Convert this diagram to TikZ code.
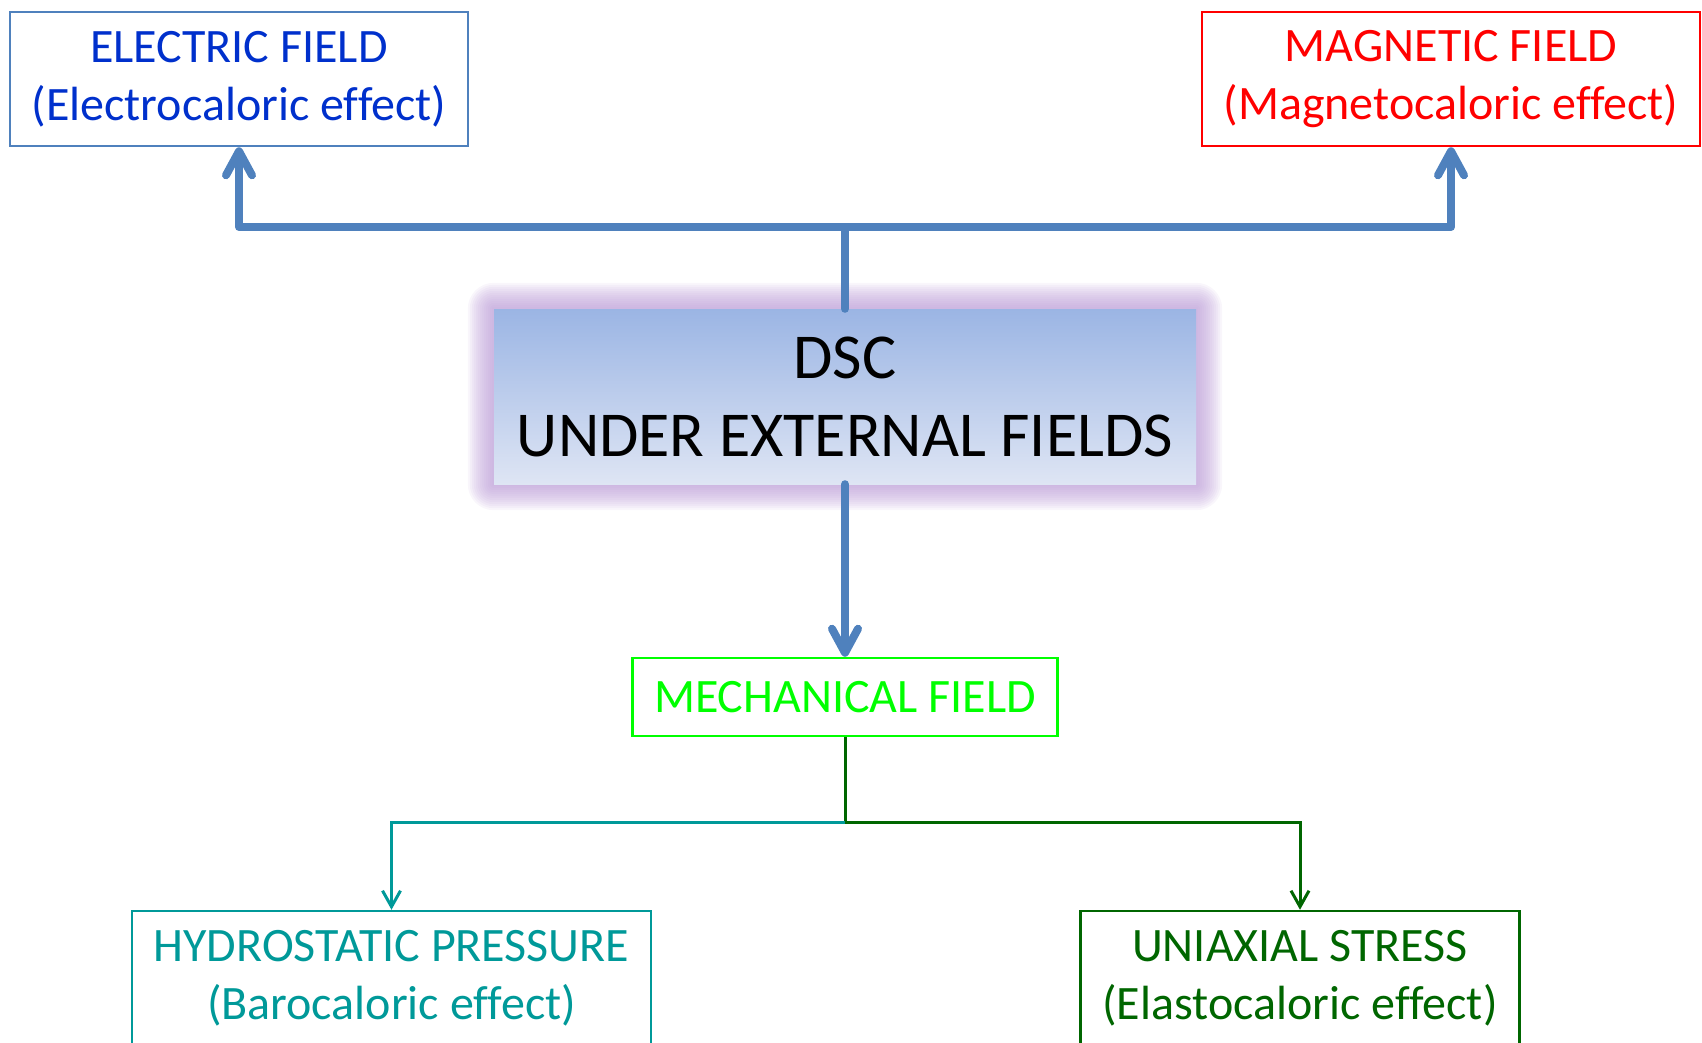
\documentclass[tikz,border=0pt]{standalone}
\usepackage{fontspec}
\setmainfont{Carlito}[Ligatures=NoCommon]
\usetikzlibrary{arrows.meta,backgrounds}
\definecolor{steel}{RGB}{79,129,189}
\definecolor{eltext}{RGB}{0,48,204}
\definecolor{magred}{RGB}{255,0,0}
\definecolor{mechgreen}{RGB}{0,255,0}
\definecolor{tealc}{RGB}{0,153,153}
\definecolor{dkgreen}{RGB}{0,102,0}
\definecolor{dsctop}{RGB}{155,181,228}
\definecolor{dscbot}{RGB}{222,229,244}
\definecolor{glowc}{RGB}{186,154,214}
\tikzset{
  box/.style={draw, rectangle, line width=2.5pt, align=center, inner sep=0pt,
    font=\fontsize{48}{58}\selectfont},
  bigline/.style={draw=steel, line width=8pt, line join=round, line cap=round},
  bigtip/.style={-{Straight Barb[length=24pt,width=26pt,line cap=round,line join=round]}},
  thinline/.style={line width=3pt},
  thintip/.style={-{Straight Barb[length=16pt,width=18pt]}}
}
\begin{document}
\begin{tikzpicture}[x=1pt,y=-1pt]
\useasboundingbox (0,0) rectangle (1702,1042);
\clip (0,0) rectangle (1702,1042);

\node[box, draw=steel, text=eltext, minimum width=458pt, minimum height=134pt] (el) at (239,79)
  {ELECTRIC FIELD\\(Electrocaloric effect)};
\node[box, draw=magred, text=magred, minimum width=498pt, minimum height=134pt] (mag) at (1451,79)
  {MAGNETIC FIELD\\(Magnetocaloric effect)};
\node[rectangle, inner sep=0pt, align=center, top color=dsctop, bottom color=dscbot,
  minimum width=702pt, minimum height=175pt, font=\fontsize{64}{78}\selectfont] (dsc) at (845,396.5)
  {DSC\\UNDER EXTERNAL FIELDS};
\node[box, draw=mechgreen, text=mechgreen, minimum width=425pt, minimum height=78pt] (mech) at (845,697)
  {MECHANICAL FIELD};
\node[box, draw=tealc, text=tealc, minimum width=519pt, minimum height=134pt] (hyd) at (391.5,978)
  {HYDROSTATIC PRESSURE\\(Barocaloric effect)};
\node[box, draw=dkgreen, text=dkgreen, minimum width=439pt, minimum height=134pt] (uni) at (1300,978)
  {UNIAXIAL STRESS\\(Elastocaloric effect)};

\begin{scope}[on background layer]
  \foreach \r in {26,24,...,2}
    \fill[glowc, opacity=0.09, rounded corners=\r pt]
      ([xshift=-\r pt, yshift=\r pt]dsc.north west) rectangle ([xshift=\r pt, yshift=-\r pt]dsc.south east);
\end{scope}

\coordinate (jt) at (845,227);
\coordinate (jb) at (845,822);

\draw[bigline] (dsc.north) -- (jt);
\draw[bigline, bigtip] (jt) -| (el.south);
\draw[bigline, bigtip] (jt) -| (mag.south);
\draw[bigline, bigtip] (dsc.south) -- (mech.north);

\draw[thinline, draw=dkgreen] (mech.south) -- (jb);
\draw[thinline, draw=tealc, thintip] (jb) -| (hyd.north);
\draw[thinline, draw=dkgreen, thintip] (jb) -| (uni.north);
\end{tikzpicture}
\end{document}
